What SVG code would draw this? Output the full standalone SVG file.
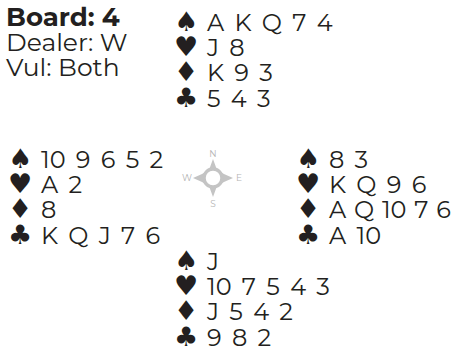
<svg xmlns="http://www.w3.org/2000/svg" width="458" height="352" viewBox="0 0 458 352">
<style>
.t{font-family:"Montserrat","Lato","Liberation Sans",sans-serif;font-size:25px;fill:#231f20;}
.b{font-weight:bold;font-size:26px;}
.c{font-family:"Montserrat","Lato","Liberation Sans",sans-serif;font-size:24px;fill:#231f20;word-spacing:4px;}
.n{word-spacing:1.5px;}
.s{font-family:"DejaVu Sans",sans-serif;font-size:27px;fill:#231f20;}
.cp{font-family:"Montserrat","Liberation Sans",sans-serif;font-size:9px;fill:#b5b5b5;text-anchor:middle;}
</style>
<rect width="458" height="352" fill="#fff"/>
<g id="info">
<text class="t b" x="6" y="26">Board: 4</text>
<text class="t" x="6" y="51">Dealer: W</text>
<text class="t" x="6" y="76">Vul: Both</text>
</g>
<g id="north">
<text class="s" x="174" y="31">♠</text><text class="c" x="207" y="31">A K Q 7 4</text>
<text class="s" x="174" y="56">♥</text><text class="c" x="207" y="56">J 8</text>
<text class="s" x="174" y="81">♦</text><text class="c" x="207" y="81">K 9 3</text>
<text class="s" x="174" y="107">♣</text><text class="c" x="207" y="107">5 4 3</text>
</g>
<g id="west">
<text class="s" x="8" y="168">♠</text><text class="c" x="41" y="168">10 9 6 5 2</text>
<text class="s" x="8" y="193">♥</text><text class="c" x="41" y="193">A 2</text>
<text class="s" x="8" y="218">♦</text><text class="c" x="41" y="218">8</text>
<text class="s" x="8" y="244">♣</text><text class="c" x="41" y="244">K Q J 7 6</text>
</g>
<g id="east">
<text class="s" x="296" y="168">♠</text><text class="c" x="329" y="168">8 3</text>
<text class="s" x="296" y="193">♥</text><text class="c" x="329" y="193">K Q 9 6</text>
<text class="s" x="296" y="218">♦</text><text class="c n" x="329" y="218">A Q 10 7 6</text>
<text class="s" x="296" y="244">♣</text><text class="c" x="329" y="244">A 10</text>
</g>
<g id="south">
<text class="s" x="174" y="270">♠</text><text class="c" x="207" y="270">J</text>
<text class="s" x="174" y="295">♥</text><text class="c" x="207" y="295">10 7 5 4 3</text>
<text class="s" x="174" y="320">♦</text><text class="c" x="207" y="320">J 5 4 2</text>
<text class="s" x="174" y="346">♣</text><text class="c" x="207" y="346">9 8 2</text>
</g>
<g id="compass">
<path d="M213,159 L217,170 L224,174 L233,178 L224,182 L217,186 L213,197 L209,186 L202,182 L193,178 L202,174 L209,170 Z" fill="#c4c4c4"/>
<circle cx="213" cy="178" r="9" fill="#fff" stroke="#c4c4c4" stroke-width="3.5"/>
<text class="cp" x="213" y="157">N</text>
<text class="cp" x="239" y="181">E</text>
<text class="cp" x="213" y="207">S</text>
<text class="cp" x="187" y="181">W</text>
</g>
</svg>
